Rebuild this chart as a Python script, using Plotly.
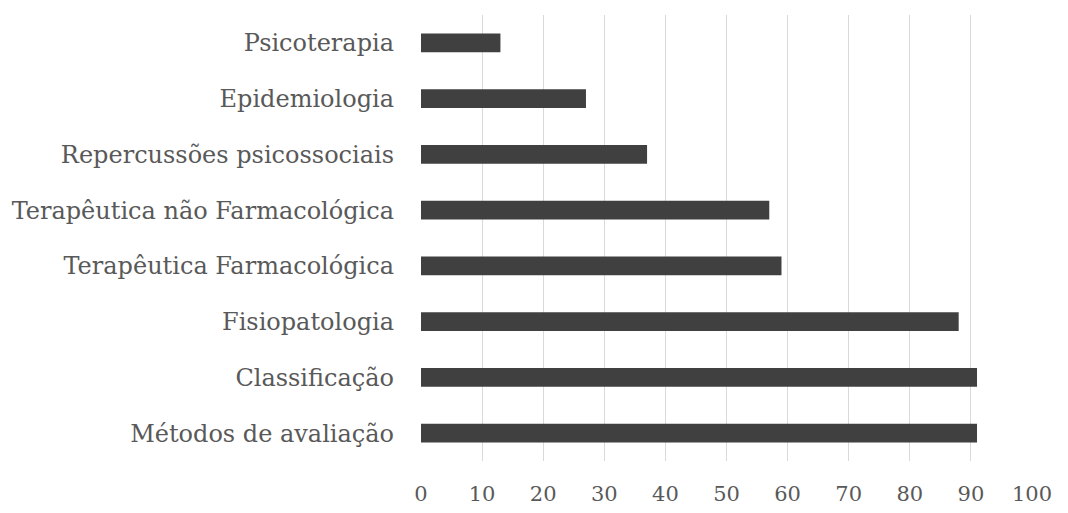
import plotly.graph_objects as go

categories = ["Métodos de avaliação", "Classificação", "Fisiopatologia",
              "Terapêutica Farmacológica", "Terapêutica não Farmacológica",
              "Repercussões psicossociais", "Epidemiologia", "Psicoterapia"]
values = [91, 91, 88, 59, 57, 37, 27, 13]
x_ticks = [0, 10, 20, 30, 40, 50, 60, 70, 80, 90, 100]

fig = go.Figure(go.Bar(
    y=categories, x=values, orientation="h",
    marker=dict(color="#404040", line=dict(width=0)),
    width=0.34,
))

font_family = "DejaVu Serif, Liberation Serif, serif"
fig.update_layout(
    width=1068, height=513,
    margin=dict(l=421, r=36, t=15, b=52),
    paper_bgcolor="white", plot_bgcolor="white",
    showlegend=False,
    font=dict(family=font_family, color="#595959"),
)
fig.update_xaxes(
    range=[0, 100], tickvals=x_ticks, ticktext=[str(v) for v in x_ticks],
    showgrid=True, gridcolor="#d9d9d9", gridwidth=1,
    zeroline=False, showline=False, automargin=False,
    tickfont=dict(size=21, family=font_family, color="#595959"),
    ticklabelstandoff=18,
)
fig.update_yaxes(
    categoryorder="array", categoryarray=categories,
    showgrid=False, zeroline=False, showline=False, automargin=False,
    tickfont=dict(size=24, family=font_family, color="#595959"),
    ticklabelstandoff=26,
)
fig.write_html("out.html")
